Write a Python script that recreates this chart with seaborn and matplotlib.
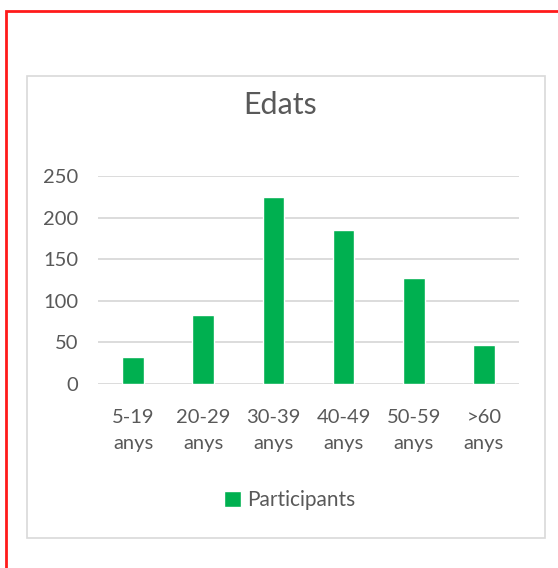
import pandas as pd
import matplotlib.pyplot as plt
import seaborn as sns
from matplotlib.patches import Rectangle

# age groups and number of participants
groups = ['5-19\nanys', '20-29\nanys', '30-39\nanys', '40-49\nanys', '50-59\nanys', '>60\nanys']
participants = [32, 83, 225, 185, 127, 47]

df = pd.DataFrame({'Edat': groups, 'Participants': participants})

sns.set_style('white')
plt.rcParams['font.family'] = ['Lato', 'DejaVu Sans']

gray = '#595959'
green = '#00B050'

fig = plt.figure(figsize=(5.58, 5.68), dpi=100)
W, H = 558, 568

# chart frame and red outline
fig.add_artist(Rectangle((27 / W, 1 - 538 / H), 518 / W, 462 / H, transform=fig.transFigure,
                         fill=False, edgecolor='#D9D9D9', linewidth=1.2))
fig.add_artist(Rectangle((6 / W, -0.05), 1.2, 1 - 11 / H + 0.05, transform=fig.transFigure,
                         fill=False, edgecolor='#FF1A1A', linewidth=2))

ax = fig.add_axes([98 / W, 1 - 384 / H, 421 / W, 208 / H])
sns.barplot(data=df, x='Edat', y='Participants', color=green, width=0.31,
            saturation=1, label='Participants', ax=ax)

ax.set_ylim(0, 250)
ax.set_yticks([0, 50, 100, 150, 200, 250])
ax.yaxis.grid(True, color='#D9D9D9', linewidth=1.3)
ax.set_axisbelow(True)
for s in ax.spines.values():
    s.set_visible(False)
ax.set_xlabel('')
ax.set_ylabel('')
ax.tick_params(axis='y', length=0, pad=14, labelsize=14.5, labelcolor=gray)
ax.tick_params(axis='x', length=0, pad=18, labelsize=14.5, labelcolor=gray)
for t in ax.get_xticklabels():
    t.set_linespacing(1.65)

fig.text(280 / W, 1 - 105 / H, 'Edats', ha='center', va='center', fontsize=22, color=gray)

leg = ax.legend(loc='center', bbox_to_anchor=(290 / W, 1 - 500 / H), bbox_transform=fig.transFigure,
                frameon=False, fontsize=15, handlelength=0.8, handleheight=0.8, handletextpad=0.3)
for t in leg.get_texts():
    t.set_color(gray)

fig.savefig('out.png', dpi=100)
